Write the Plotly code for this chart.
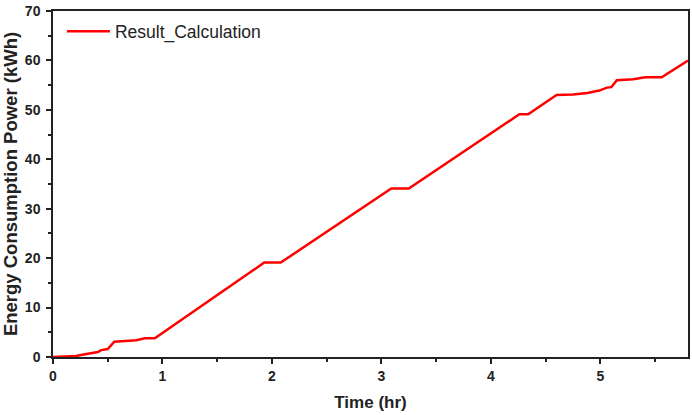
import plotly.graph_objects as go

time_hr = [0, 0.21, 0.28, 0.34, 0.41, 0.44, 0.50, 0.56, 0.65, 0.76, 0.84, 0.93,
           1.93, 2.08, 3.09, 3.25, 4.26, 4.34, 4.60, 4.75, 4.88, 4.99, 5.06, 5.10,
           5.15, 5.30, 5.41, 5.56, 5.80]
energy_kwh = [0, 0.2, 0.5, 0.8, 1.0, 1.4, 1.6, 3.1, 3.2, 3.4, 3.8, 3.8,
              19.1, 19.1, 34.1, 34.1, 49.1, 49.1, 53.0, 53.1, 53.4, 53.9, 54.5, 54.6,
              56.0, 56.2, 56.6, 56.6, 60.0]
series_name = "Result_Calculation"
x_ticks = [0, 1, 2, 3, 4, 5]
y_ticks = [0, 10, 20, 30, 40, 50, 60, 70]

fig = go.Figure()
fig.add_trace(go.Scatter(x=time_hr, y=energy_kwh, mode="lines", name=series_name,
                         line=dict(color="#ff0000", width=2.5)))

font_family = "Liberation Sans, Arial, sans-serif"
axis_common = dict(showgrid=False, zeroline=False, showline=True, linecolor="#222",
                   linewidth=1.5, mirror=True, ticks="outside", ticklen=5, tickwidth=1.5,
                   tickcolor="#222",
                   tickfont=dict(family=font_family, size=14, color="#222", weight="bold"))

fig.update_xaxes(range=[0, 5.8], tickvals=x_ticks,
                 minor=dict(dtick=0.5, ticks="outside", ticklen=3, tickcolor="#222", tickwidth=1.5),
                 title=dict(text="Time (hr)", standoff=14,
                            font=dict(family=font_family, size=17, color="#222", weight="bold")),
                 **axis_common)
fig.update_yaxes(range=[0, 70], tickvals=y_ticks, ticklabelstandoff=3,
                 minor=dict(dtick=5, ticks="outside", ticklen=3, tickcolor="#222", tickwidth=1.5),
                 title=dict(text="Energy Consumption Power (kWh)", standoff=6,
                            font=dict(family=font_family, size=18.5, color="#222", weight="bold")),
                 **axis_common)

fig.update_layout(width=692, height=415, margin=dict(l=53, r=2, t=11, b=58),
                  paper_bgcolor="white", plot_bgcolor="white",
                  showlegend=True,
                  legend=dict(x=0.014, y=0.993, xanchor="left", yanchor="top",
                              itemwidth=43,
                              bgcolor="rgba(0,0,0,0)",
                              font=dict(family=font_family, size=17.5, color="#222")))

fig.write_html("out.html")
